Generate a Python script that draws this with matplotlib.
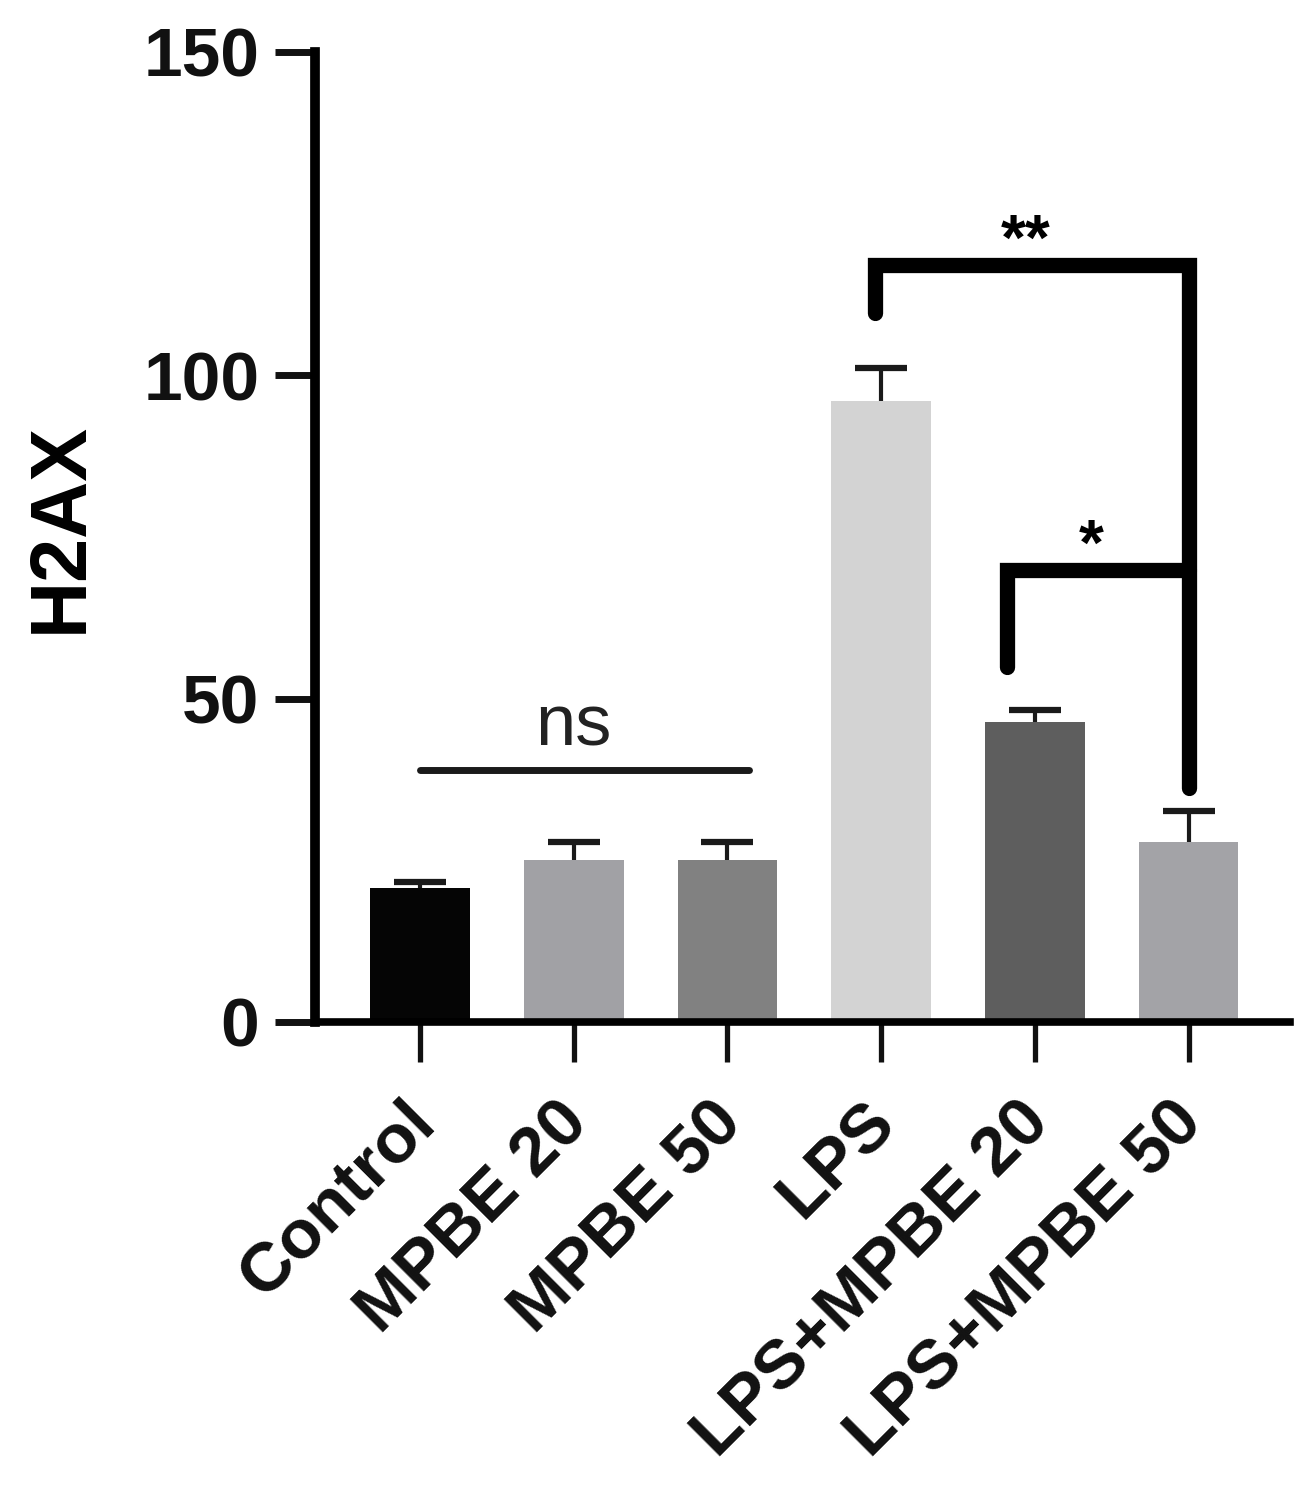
import matplotlib
matplotlib.use('Agg')
import matplotlib.pyplot as plt
import matplotlib.transforms as mtransforms
import numpy as np

plt.rcParams['font.family'] = ['Liberation Sans', 'DejaVu Sans']

groups = ['Control', 'MPBE 20', 'MPBE 50', 'LPS', 'LPS+MPBE 20', 'LPS+MPBE 50']
means = [20.7, 25.0, 25.0, 96.1, 46.4, 27.8]
errors = [0.9, 2.8, 2.8, 5.0, 1.8, 4.8]
bar_colors = ['#050505', '#a1a1a5', '#818181', '#d3d3d3', '#5e5e5e', '#a3a3a7']
y_ticks = [0, 50, 100, 150]

# ns comparison over the first three groups
ns_span = (0, 2.14)
ns_height = 39

# significance brackets: left x, right x, top, left foot, right foot, label
brackets = [
    (2.96, 5.0, 117.0, 109.6, 36.2, '**'),
    (3.82, 5.0, 69.9, 54.9, 69.9, '*'),
]

fig = plt.figure(figsize=(13.14, 15.02), dpi=100)
ax = fig.add_axes([0.2397, 0.3196, 0.9817 - 0.2397, 0.9654 - 0.3196])

x = np.arange(len(groups))
ax.bar(x, means, width=0.65, color=bar_colors, zorder=2)
eb = ax.errorbar(x, means, yerr=[np.zeros(len(errors)), errors], fmt='none',
                 ecolor='#1a1a1a', elinewidth=3, capsize=19, capthick=4.5, zorder=1)
# only the upper cap is shown
eb[1][0].set_visible(False)

ax.set_xlim(-0.684, 5.66)
ax.set_ylim(0, 150)
ax.set_yticks(y_ticks)
ax.set_xticks(x)
for lab in ax.get_yticklabels():
    lab.set_fontsize(50)
    lab.set_fontweight('bold')
    lab.set_color('#111111')

# rotated group names, baseline end sits just under each tick
label_tf = ax.get_xaxis_transform() + mtransforms.ScaledTranslation(0.17, -1.03, fig.dpi_scale_trans)
for xi, name in zip(x, groups):
    ax.text(xi, 0, name, transform=label_tf, rotation=45, ha='right', va='baseline',
            rotation_mode='anchor', fontsize=50, fontweight='bold', color='#111111')

for side in ['top', 'right']:
    ax.spines[side].set_visible(False)
ax.spines['left'].set_linewidth(7)
ax.spines['bottom'].set_linewidth(5.5)
ax.spines['left'].set_capstyle('projecting')
ax.tick_params(axis='y', length=29, width=5, pad=11, color='#111111')
ax.tick_params(axis='x', length=29, width=3.8, color='#111111', labelbottom=False)

ax.set_ylabel('H2AX', fontsize=57, fontweight='bold')
ax.yaxis.set_label_coords(-0.222, 0.51)

# ns line
ax.plot(ns_span, [ns_height, ns_height], color='#1a1a1a', lw=5,
        solid_capstyle='round', zorder=3)
ax.text(np.mean(ns_span) - 0.07, ns_height + 1.5, 'ns', ha='center', va='bottom',
        fontsize=52, color='#222222')

for xl, xr, top, foot_l, foot_r, label in brackets:
    ax.plot([xl, xl, xr, xr], [foot_l, top, top, foot_r], color='black', lw=11,
            solid_capstyle='round', solid_joinstyle='miter', zorder=3)
    ax.text((xl + xr) / 2 - 0.04, top - 1.2, label, ha='center', va='bottom',
            fontsize=46, fontweight='bold', color='black')

fig.savefig('out.png', dpi=100)
